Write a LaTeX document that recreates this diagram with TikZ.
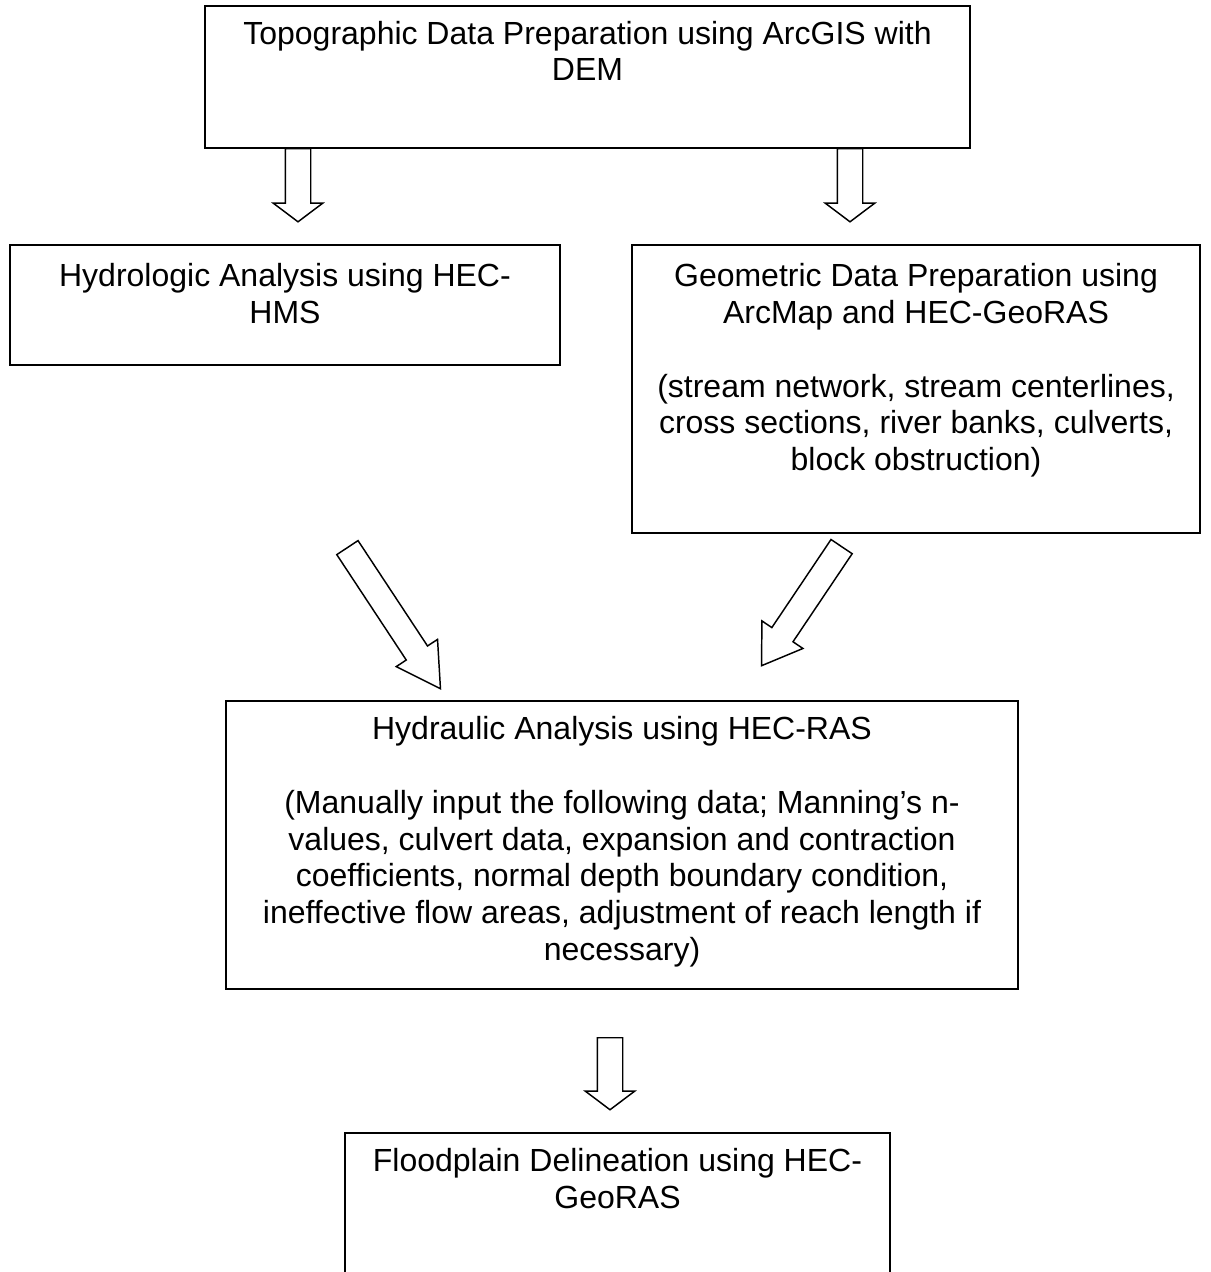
\documentclass[tikz,border=0pt]{standalone}
\usepackage{fontspec}
\setmainfont{Liberation Sans}
\usetikzlibrary{
	positioning,
	fit,
	shapes.arrows
}

\tikzset{
	box/.style={draw, line width=0.75pt, inner sep=0pt},
	boxtext/.style={align=center, inner sep=0pt, font=\fontsize{12}{13.8}\selectfont},
	blockarrow/.style={draw, line width=0.55pt, single arrow, inner sep=4.5pt,
		minimum width=18pt, single arrow head extend=4.5pt}
}

\begin{document}
\begin{tikzpicture}[x=0.375pt, y=-0.375pt]
	\useasboundingbox (0,0) rectangle (1211,1272);

	% boxes
	\node [box, fit={(205,6) (970,148)}]     (topo)  {};
	\node [box, fit={(10,245) (560,365)}]    (hydro) {};
	\node [box, fit={(632,245) (1200,533)}]  (geom)  {};
	\node [box, fit={(226,701) (1018,989)}]  (hydra) {};
	\node [box, fit={(345,1133) (890,1330)}] (flood) {};

	% texts
	\node [boxtext, below=5.8pt of topo.north]  (topo-t)  {Topographic Data Preparation using ArcGIS with\\DEM};
	\node [boxtext, below=7.1pt of hydro.north] (hydro-t) {Hydrologic Analysis using HEC-\\HMS};
	\node [boxtext, below=7.1pt of geom.north]  (geom-t)  {Geometric Data Preparation using\\ArcMap and HEC-GeoRAS\\[13.8pt]
		(stream network, stream centerlines,\\cross sections, river banks, culverts,\\block obstruction)};
	\node [boxtext, below=6pt of hydra.north]   (hydra-t) {Hydraulic Analysis using HEC-RAS\\[13.8pt]
		(Manually input the following data; Manning’s n-\\values, culvert data, expansion and contraction\\
		coefficients, normal depth boundary condition,\\ineffective flow areas, adjustment of reach length if\\necessary)};
	\node [boxtext, below=6pt of flood.north]   (flood-t) {Floodplain Delineation using HEC-\\GeoRAS};

	% block arrows
	\node [blockarrow, single arrow tip angle=106, minimum height=27.4pt, rotate=-90, anchor=tail]    (a1) at (298,148) {};
	\node [blockarrow, single arrow tip angle=106, minimum height=27.4pt, rotate=-90, anchor=tail]    (a2) at (850,148) {};
	\node [blockarrow, single arrow tip angle=60, minimum height=63.4pt, rotate=-56.6, anchor=tail]   (a3) at (347,547) {};
	\node [blockarrow, single arrow tip angle=67, minimum height=53.8pt, rotate=-123.9, anchor=tail]  (a4) at (842,546) {};
	\node [blockarrow, single arrow tip angle=106, minimum height=27pt, rotate=-90, anchor=tail]      (a5) at (610,1037) {};
\end{tikzpicture}
\end{document}
